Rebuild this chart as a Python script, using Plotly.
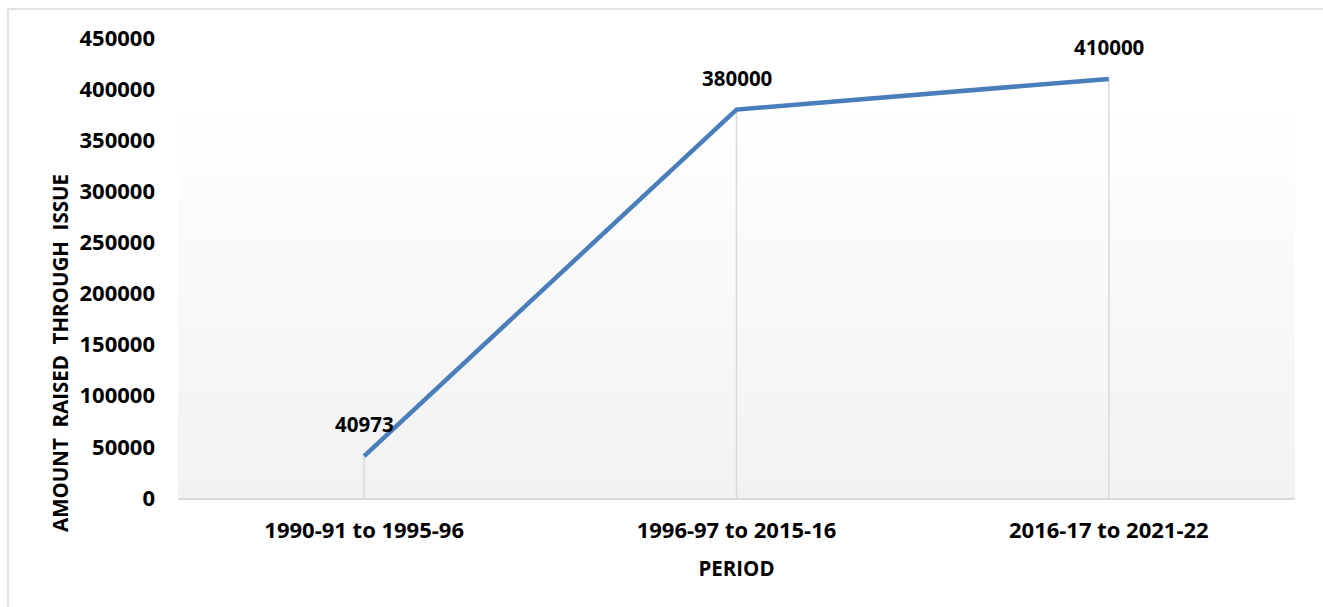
import plotly.graph_objects as go

periods = ["1990-91 to 1995-96", "1996-97 to 2015-16", "2016-17 to 2021-22"]
amounts = [40973, 380000, 410000]
y_ticks = [0, 50000, 100000, 150000, 200000, 250000, 300000, 350000, 400000, 450000]

FONT = "Open Sans"
LINE_BLUE = "#4a7ebb"
GRID = "#d9d9d9"

fig = go.Figure()

# drop lines from each point to the axis
fig.add_trace(go.Scatter(
    x=periods, y=amounts, mode="markers",
    marker=dict(size=1, color="rgba(0,0,0,0)"),
    error_y=dict(type="data", symmetric=False, array=[0] * len(amounts),
                 arrayminus=amounts, color=GRID, thickness=1.5, width=0),
    hoverinfo="skip", showlegend=False,
))

fig.add_trace(go.Scatter(
    x=periods, y=amounts, mode="lines",
    line=dict(color=LINE_BLUE, width=4.5),
    showlegend=False,
))

for p, v in zip(periods, amounts):
    fig.add_annotation(x=p, y=v, text=f"<b>{v}</b>", showarrow=False,
                       yshift=32, font=dict(family=FONT, size=20.5, color="black"))

# gradient plot-area background (white at top -> light gray at bottom)
shapes = []
n = 50
top = 0.8696
for i in range(n):
    y0 = top * i / n
    y1 = top * (i + 1) / n
    t = (i + 0.5) / n
    c = int(round(242 + (255 - 242) * t))
    shapes.append(dict(type="rect", xref="paper", yref="paper", x0=0, x1=1,
                       y0=y0, y1=y1, fillcolor=f"rgb({c},{c},{c})",
                       line=dict(width=0), layer="below"))
# outer chart border (top and left)
shapes.append(dict(type="line", xref="paper", yref="paper",
                   x0=-0.1522, x1=1.03, y0=1.063, y1=1.063,
                   line=dict(color="#d9d9d9", width=1.5)))
shapes.append(dict(type="line", xref="paper", yref="paper",
                   x0=-0.1522, x1=-0.1522, y0=1.063, y1=-0.25,
                   line=dict(color="#d9d9d9", width=1.5)))

fig.add_annotation(xref="paper", yref="paper", x=(60 - 178) / 1117, y=(498 - 353) / 460,
                   xanchor="center", yanchor="middle",
                   text="<b>AMOUNT&nbsp; RAISED&nbsp; THROUGH&nbsp; ISSUE</b>",
                   textangle=-90, showarrow=False,
                   font=dict(family=FONT, size=20.5, color="black"))

fig.update_layout(
    width=1323, height=607,
    margin=dict(l=178, r=28, t=38, b=109),
    paper_bgcolor="white", plot_bgcolor="rgba(0,0,0,0)",
    shapes=shapes,
    font=dict(family=FONT, color="black"),
    xaxis=dict(
        type="category", range=[-0.5, 2.5],
        showgrid=False, zeroline=False,
        showline=True, linecolor=GRID, linewidth=2,
        ticks="", ticklabelstandoff=12,
        tickfont=dict(family=FONT, size=22, color="black", weight="bold"),
        title=dict(text="<b>PERIOD</b>", font=dict(family=FONT, size=20.5, color="black"),
                   standoff=18),
    ),
    yaxis=dict(
        range=[0, 450000], tickvals=y_ticks, ticktext=[str(v) for v in y_ticks],
        showgrid=False, zeroline=False, showline=False,
        ticks="", ticklabelstandoff=22,
        tickfont=dict(family=FONT, size=22, color="black", weight="bold"),
    ),
)

fig.write_html("out.html")
